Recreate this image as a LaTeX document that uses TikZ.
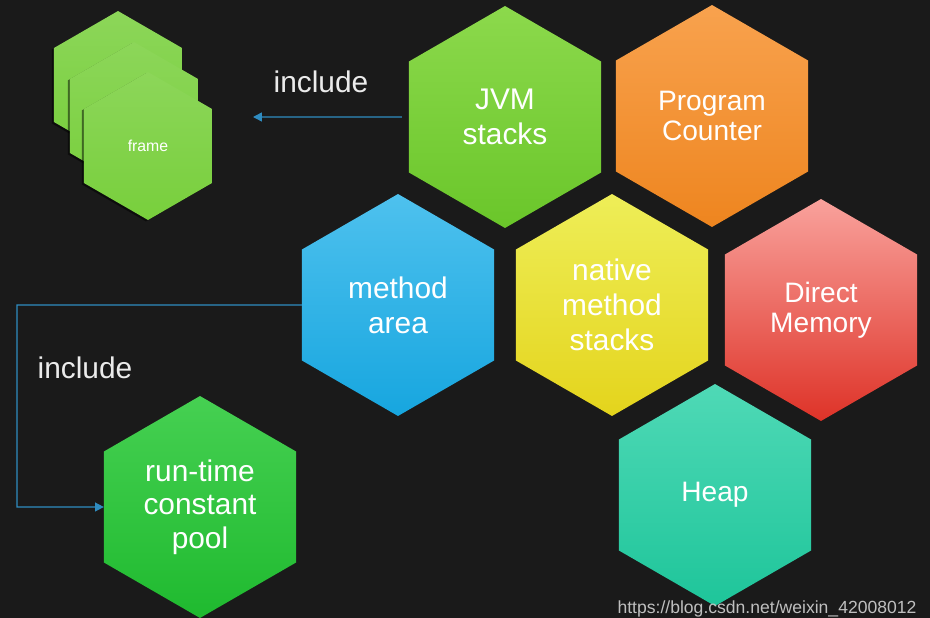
\documentclass[tikz,border=0pt]{standalone}
\usepackage{fontspec}
\setmainfont{Liberation Sans}
\usetikzlibrary{arrows.meta,positioning,shapes.geometric,shadows}
\definecolor{board}{HTML}{1A1A1A}
\definecolor{wire}{HTML}{2F8CC0}
\definecolor{frameg}{HTML}{78CF3C}
\definecolor{jvmtop}{HTML}{8CD94C}
\definecolor{jvmbot}{HTML}{6AC62A}
\definecolor{pctop}{HTML}{F8A24E}
\definecolor{pcbot}{HTML}{EE851F}
\definecolor{matop}{HTML}{4EC1EE}
\definecolor{mabot}{HTML}{17A6DF}
\definecolor{nmtop}{HTML}{EEEE58}
\definecolor{nmbot}{HTML}{E4D41C}
\definecolor{dmtop}{HTML}{F9A29C}
\definecolor{dmbot}{HTML}{DE3328}
\definecolor{hptop}{HTML}{4FD9B6}
\definecolor{hpbot}{HTML}{1EC59A}
\definecolor{rctop}{HTML}{46D052}
\definecolor{rcbot}{HTML}{1FBA2F}

\begin{document}
\begin{tikzpicture}[
    x=0.02cm,y=-0.02cm,
    hx/.style={regular polygon,regular polygon sides=6,regular polygon rotate=30,
        minimum size=4.44cm,inner sep=0pt,outer sep=0pt,text=white,align=center,
        font=\fontsize{17}{20}\selectfont},
    fr/.style={hx,minimum size=2.96cm,top color=#1!85!white,bottom color=#1,
        drop shadow={shadow xshift=-1.2pt,shadow yshift=-0.8pt,fill=black,opacity=0.5},
        font=\fontsize{9}{11}\selectfont},
    ar/.style={-{Triangle[length=5pt,width=5pt]},wire,line width=0.8pt},
    lbl/.style={text=white!92!black,font=\fontsize{17}{20}\selectfont}
]
\fill[board] (0,0) rectangle (930,618);
\useasboundingbox (0,0) rectangle (930,618);

% stack of frames
\node[fr=frameg] (fr1) at (118,85) {};
\node[fr=frameg] (fr2) at (134,116) {};
\node[fr=frameg] (fr3) at (148,146) {frame};

% memory areas
\node[hx,top color=jvmtop,bottom color=jvmbot] (jvm) at (505,117) {JVM\\stacks};
\node[hx,top color=pctop,bottom color=pcbot,font=\fontsize{16}{17}\selectfont] (pc) at (712,116) {Program\\Counter};
\node[hx,top color=matop,bottom color=mabot] (ma) at (398,305) {method\\area};
\node[hx,top color=nmtop,bottom color=nmbot] (nms) at (612,305) {native\\method\\stacks};
\node[hx,top color=dmtop,bottom color=dmbot,font=\fontsize{16}{17}\selectfont] (dm) at (821,310) {Direct\\Memory};
\node[hx,top color=hptop,bottom color=hpbot,font=\fontsize{16}{17}\selectfont] (heap) at (715,495) {Heap};
\node[hx,top color=rctop,bottom color=rcbot,font=\fontsize{17}{19}\selectfont] (rcp) at (200,507) {run-time\\constant\\pool};

% include arrows
\coordinate (frin) at (253,117);
\coordinate (bend) at (17,305);
\draw[ar,shorten <=4pt] (jvm.west) -- (frin);
\draw[ar] (ma.west) -- (bend) |- (rcp.west);
\node[lbl] (inc1) at (321,82) {include};
\node[lbl] (inc2) at (85,368) {include};

\node[text=white!75!black,font=\fontsize{10}{12}\selectfont] (src) at (767,609) {https://blog.csdn.net/weixin\_42008012};
\end{tikzpicture}
\end{document}
